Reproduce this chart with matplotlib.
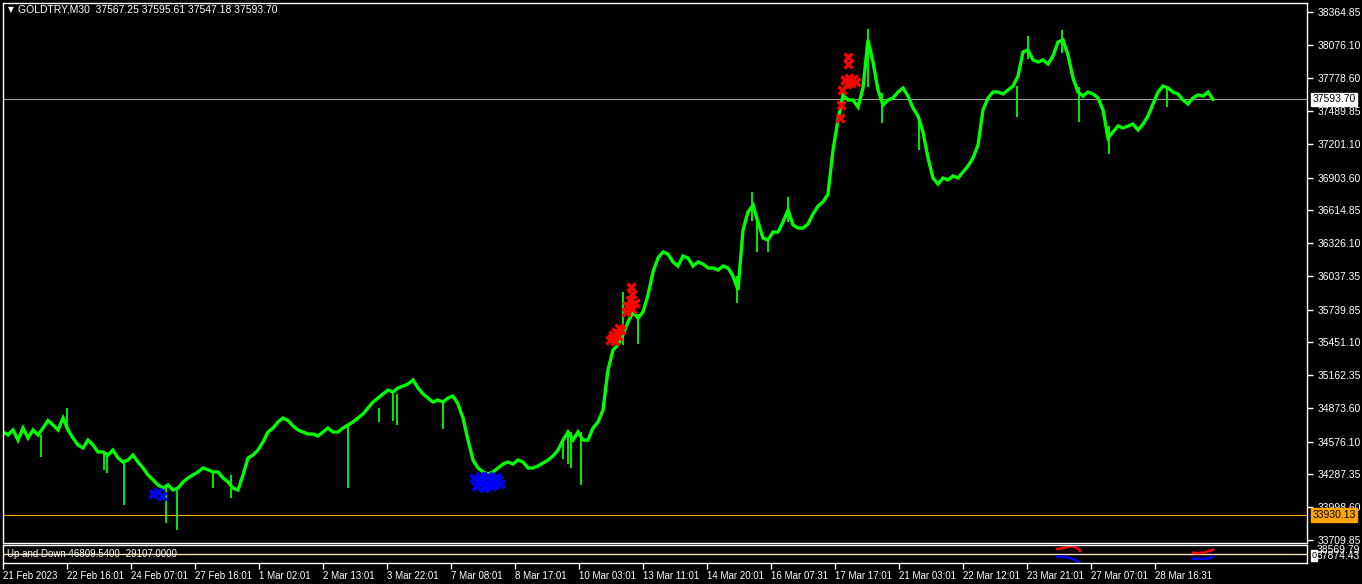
import matplotlib
matplotlib.use("Agg")
import matplotlib.pyplot as plt
import numpy as np
from matplotlib.transforms import blended_transform_factory

plt.rcParams["font.family"] = ["Liberation Sans", "DejaVu Sans"]

# ── data (M30 bars, one sample every 5 bars) ────────────────────────────
SAMPLE_STEP = 5
close = [
    34662, 34636, 34680, 34591, 34697, 34609, 34680, 34636, 34697, 34763,
    34724, 34680, 34785, 34680, 34609, 34547, 34521, 34591, 34547, 34486,
    34486, 34459, 34503, 34433, 34397, 34415, 34459, 34397, 34345, 34283,
    34241, 34195, 34168, 34195, 34151, 34168, 34221, 34257, 34283, 34310,
    34345, 34329, 34310, 34310, 34257, 34221, 34168, 34151, 34283, 34433,
    34459, 34503, 34574, 34662, 34697, 34750, 34785, 34763, 34715, 34680,
    34662, 34644, 34644, 34627, 34662, 34697, 34662, 34662, 34697, 34724,
    34750, 34785, 34821, 34874, 34926, 34962, 34997, 35032, 35015, 35050,
    35068, 35085, 35121, 35050, 34997, 34962, 34926, 34944, 34926, 34962,
    34979, 34909, 34785, 34591, 34415, 34345, 34310, 34292, 34310, 34345,
    34380, 34397, 34380, 34415, 34397, 34345, 34345, 34362, 34389, 34415,
    34450, 34503, 34591, 34662, 34591, 34662, 34591, 34591, 34697, 34750,
    34856, 35209, 35385, 35429, 35517, 35632, 35720, 35667, 35720, 35870,
    36073, 36196, 36249, 36231, 36161, 36125, 36213, 36196, 36125, 36161,
    36143, 36108, 36108, 36090, 36125, 36108, 36037, 35914, 36443, 36602,
    36663, 36513, 36372, 36355, 36425, 36425, 36513, 36619, 36487, 36460,
    36460, 36496, 36584, 36654, 36690, 36760, 37148, 37413, 37633, 37589,
    37589, 37527, 37695, 38118, 37924, 37677, 37545, 37589, 37607, 37659,
    37695, 37624, 37518, 37448, 37307, 37078, 36901, 36848, 36901, 36884,
    36919, 36901, 36954, 37007, 37078, 37192, 37501, 37607, 37659, 37659,
    37642, 37677, 37712, 37800, 38012, 38030, 37942, 37924, 37942, 37906,
    37977, 38100, 38118, 37986, 37783, 37659, 37624, 37659, 37642, 37607,
    37501, 37254, 37307, 37360, 37342, 37360, 37377, 37324, 37377, 37448,
    37554, 37659, 37712, 37695, 37659, 37642, 37589, 37554, 37607, 37633,
    37624, 37659, 37594,
]

# long wicks (bar index, low, high)
wick_bar = [38, 64, 101, 104, 121, 163, 174, 210, 228, 345, 376, 390, 394, 440,
            560, 565, 568, 578, 620, 635, 734, 749, 754, 765, 785, 865, 879, 916,
            1014, 1025, 1059, 1076, 1106, 1164]
wick_low = [34442, 34697, 34329, 34300, 34018, 33860, 33798, 34168, 34080, 34168,
            34750, 34763, 34724, 34688, 34420, 34380, 34345, 34195, 35429, 35438,
            35799, 36520, 36249, 36249, 36513, 37700, 37386, 37148, 37439, 37950,
            38000, 37395, 37113, 37527]
wick_high = [34636, 34874, 34486, 34459, 34415, 34195, 34168, 34310, 34283, 34724,
             34870, 35015, 35000, 34926, 34600, 34680, 34662, 34662, 35896, 35700,
             36037, 36778, 36513, 36372, 36734, 38215, 37650, 37450, 37712, 38153,
             38206, 37700, 37360, 37712]

# buy / sell signal arrows
buy_bar = [150, 155, 159, 471, 475, 479, 483, 487, 491, 495, 473, 481, 489, 497,
           485, 477, 493]
buy_price = [34115, 34133, 34098, 34256, 34221, 34248, 34186, 34239, 34212, 34239,
             34186, 34168, 34186, 34204, 34274, 34274, 34265]
sell_bar = [607, 610, 613, 616, 609, 615, 618, 612, 628, 629, 627, 632, 624, 623,
            629, 837, 838, 839, 845, 845, 842, 846, 850, 853, 848, 844]
sell_price = [35473, 35517, 35544, 35579, 35491, 35509, 35561, 35464, 35940, 35879,
              35826, 35799, 35773, 35720, 35747, 37430, 37545, 37677, 37906, 37968,
              37765, 37783, 37774, 37748, 37739, 37730]

# "Up and Down" sub-window lines
up_bar_a = [1054, 1057, 1060, 1063, 1066, 1069, 1072, 1075, 1077]
up_val_a = [25000, 26500, 30000, 33500, 36500, 38500, 33500, 26500, 15000]
dn_bar_a = [1054, 1057, 1060, 1063, 1066, 1069, 1072, 1076]
dn_val_a = [-13500, -13500, -13500, -15000, -18500, -23500, -30000, -38500]
up_bar_b = [1190, 1193, 1197, 1200, 1203, 1207, 1210]
up_val_b = [6500, 5000, 5000, 6500, 10000, 16500, 21500]
dn_bar_b = [1190, 1193, 1197, 1200, 1203, 1207, 1210]
dn_val_b = [-23500, -23500, -23500, -23500, -23500, -20000, -11500]

price_ticks = [38364.85, 38076.10, 37778.60, 37489.85, 37201.10, 36903.60,
               36614.85, 36326.10, 36037.35, 35739.85, 35451.10, 35162.35,
               34873.60, 34576.10, 34287.35, 33998.60, 33709.85]
date_labels = ["21 Feb 2023", "22 Feb 16:01", "24 Feb 07:01", "27 Feb 16:01",
               "1 Mar 02:01", "2 Mar 13:01", "3 Mar 22:01", "7 Mar 08:01",
               "8 Mar 17:01", "10 Mar 03:01", "13 Mar 11:01", "14 Mar 20:01",
               "16 Mar 07:31", "17 Mar 17:01", "21 Mar 03:01", "22 Mar 12:01",
               "23 Mar 21:01", "27 Mar 07:01", "28 Mar 16:31"]
LABEL_EVERY = 64

BID_LINE = 37593.70
LEVEL_LINE = 33930.13

FS = 7.5
FS_DATE = 7.0
W, H = 1362, 584
fig = plt.figure(figsize=(W / 100, H / 100), dpi=100, facecolor="black")


def px_axes(left, top, right, bottom):
    return fig.add_axes([left / W, 1 - bottom / H, (right - left) / W, (bottom - top) / H])


ax = px_axes(3, 3, 1307, 543)
sub = px_axes(3, 545, 1307, 563)

for a in (ax, sub):
    a.set_facecolor("black")
    for s in a.spines.values():
        s.set_color("white")
        s.set_linewidth(1)
    a.set_xlim(0, 1304)

# ── main price window ─────────────────────────────────────────────
bars = np.arange(len(close)) * SAMPLE_STEP
ax.plot(bars, close, color="#00ff00", linewidth=2.4, solid_joinstyle="miter", zorder=2)
ax.vlines(wick_bar, wick_low, wick_high, color="#00ff00", linewidth=1.3, zorder=2)

ax.axhline(BID_LINE, color="#a0a0a0", linewidth=0.8, zorder=1)
ax.axhline(LEVEL_LINE, color="#ffa500", linewidth=0.8, zorder=1)

ax.plot(buy_bar, buy_price, "x", color="#0000ff", ms=6, mew=2.4, zorder=3)
ax.plot(sell_bar, sell_price, "x", color="#ff0000", ms=6, mew=2.4, zorder=3)

ax.set_ylim(33683.4, 38444.0)
ax.set_xticks([])
ax.yaxis.tick_right()
ax.set_yticks(price_ticks)
ax.set_yticklabels([f"{v:.2f}" for v in price_ticks])
ax.tick_params(axis="y", colors="white", length=4, width=1, pad=4, labelsize=FS)

trans = blended_transform_factory(ax.transAxes, ax.transData)
ax.text(1.0042, BID_LINE, f"{BID_LINE:.2f}", transform=trans, fontsize=FS,
        color="black", va="center", ha="left", zorder=5, clip_on=False,
        bbox=dict(boxstyle="square,pad=0.15", fc="white", ec="white"))
ax.text(1.0042, LEVEL_LINE, f"{LEVEL_LINE:.2f}", transform=trans, fontsize=FS,
        color="black", va="center", ha="left", zorder=5, clip_on=False,
        bbox=dict(boxstyle="square,pad=0.15", fc="#ffa500", ec="#ffa500"))

fig.text(8 / W, 1 - 10 / H, "\u25bc", color="white", fontsize=5.5,
         family=["DejaVu Sans"], va="center", ha="left")
fig.text(18 / W, 1 - 10 / H, "GOLDTRY,M30  37567.25 37595.61 37547.18 37593.70",
         color="white", fontsize=FS, va="center", ha="left")

# ── "Up and Down" sub window ────────────────────────────────────────
sub.set_ylim(-45000, 45000)
sub.axhline(0, color="#f5deb3", linewidth=1.0)
sub.plot(up_bar_a, up_val_a, color="#ff0000", linewidth=1.8)
sub.plot(dn_bar_a, dn_val_a, color="#0000ff", linewidth=1.8)
sub.plot(up_bar_b, up_val_b, color="#ff0000", linewidth=1.8)
sub.plot(dn_bar_b, dn_val_b, color="#0000ff", linewidth=1.8)
sub.text(4 / 1304, 0.5, "Up and Down 46809.5400 -29107.0000", transform=sub.transAxes,
         color="white", fontsize=FS_DATE, va="center", ha="left")
sub.set_yticks([])

sub.text(1.0035, 0.42, "0", transform=sub.transAxes, fontsize=6.5, color="black",
         va="center", ha="left", clip_on=False,
         bbox=dict(boxstyle="square,pad=0.1", fc="white", ec="white"))
sub.text(1.0075, 0.72, "38569.79", transform=sub.transAxes, fontsize=FS,
         color="white", va="center", ha="left", clip_on=False)
sub.text(1.0075, 0.38, "37874.43", transform=sub.transAxes, fontsize=FS,
         color="white", va="center", ha="left", clip_on=False)

date_pos = np.arange(len(date_labels)) * LABEL_EVERY
sub.set_xticks(date_pos)
sub.set_xticklabels(date_labels)
for lbl in sub.get_xticklabels():
    lbl.set_ha("left")
sub.tick_params(axis="x", colors="white", length=4, width=1, pad=2, labelsize=FS_DATE)

fig.savefig("out.png", dpi=100, facecolor="black")
